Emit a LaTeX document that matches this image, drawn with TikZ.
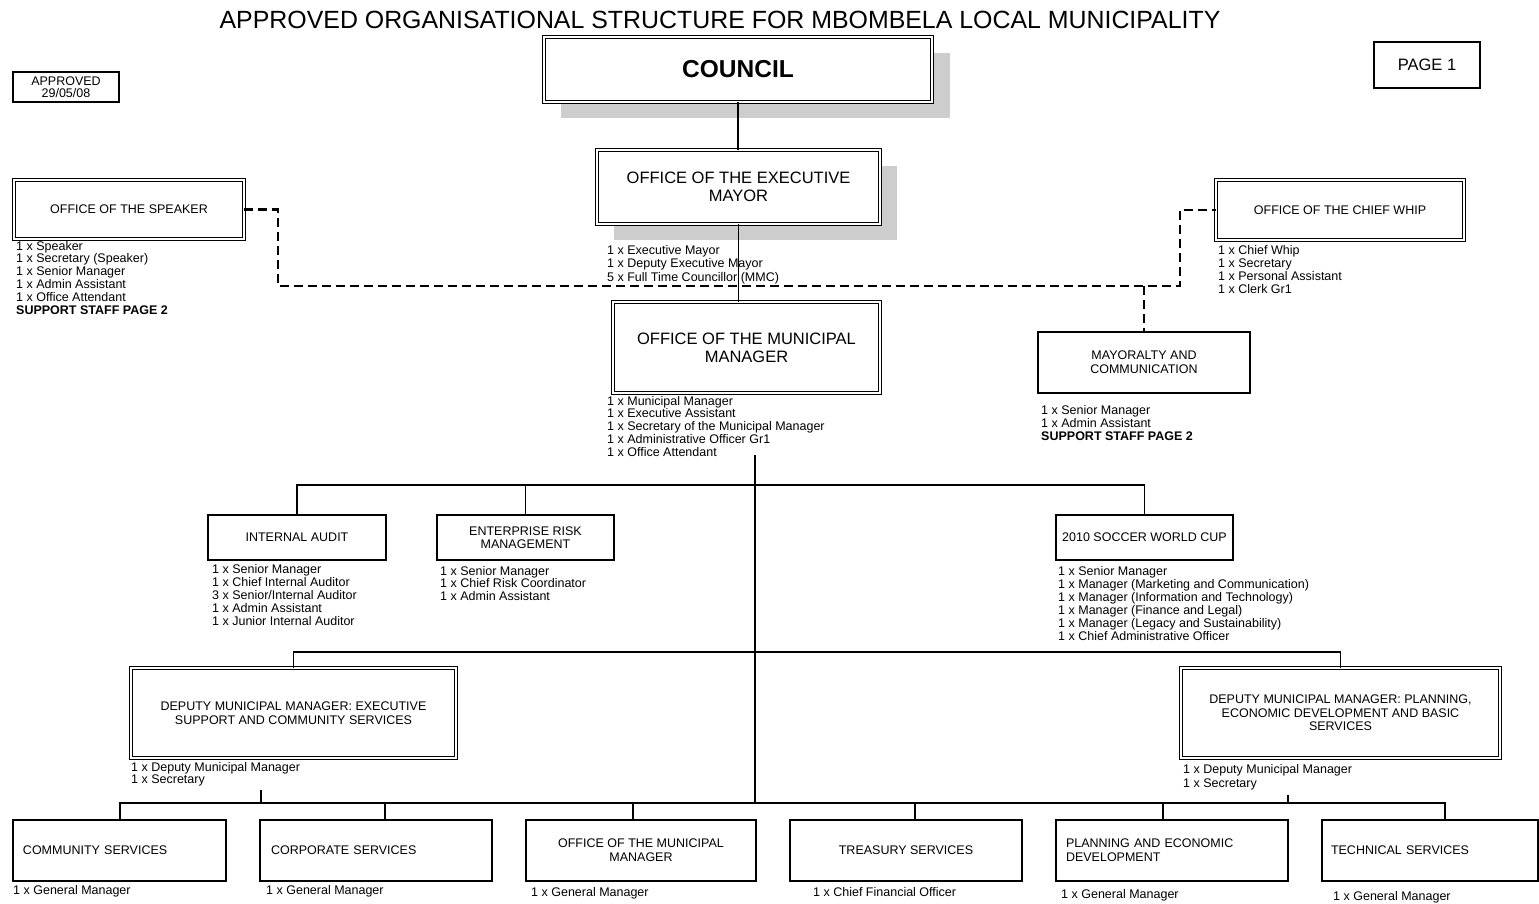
\documentclass[tikz,border=0pt]{standalone}
\usepackage{fontspec}
\setmainfont{Liberation Sans}
\definecolor{shadowgrey}{RGB}{205,205,205}
\newcommand{\stafflist}[1]{\begin{tabular}[t]{@{}l@{}}#1\end{tabular}}
\begin{document}
\begin{tikzpicture}[x=1pt,y=-1pt,
  box/.style={draw, line width=1.1pt, fill=white, inner sep=2pt, align=center, font=\fontsize{12.5}{14}\selectfont},
  dbl/.style={box, line width=0.9pt, double=white, double distance=2pt},
  lst/.style={anchor=base west, inner sep=0pt, font=\fontsize{12.5}{13}\selectfont},
  conn/.style={line width=1.1pt},
  dashline/.style={line width=2.4pt, dash pattern=on 9pt off 5pt},
  shadow/.style={fill=shadowgrey}
]
\useasboundingbox (0,0) rectangle (1539,903);

% title and side boxes
\node[font=\fontsize{24.9}{28}\selectfont, inner sep=0pt] (title) at (720,20) {APPROVED ORGANISATIONAL STRUCTURE FOR MBOMBELA LOCAL MUNICIPALITY};
\node[box, minimum width=106pt, minimum height=30pt, font=\fontsize{12.5}{12}\selectfont, inner sep=1pt] (approved) at (66,87) {APPROVED\\29/05/08};
\node[box, minimum width=106pt, minimum height=46pt, font=\fontsize{16.5}{18}\selectfont] (page) at (1427,65) {PAGE 1};

% council and executive mayor with shadows
\fill[shadow] (561,53) rectangle (950,118);
\node[dbl, minimum width=388pt, minimum height=65pt, font=\fontsize{24.5}{28}\selectfont\bfseries] (council) at (738,69.5) {COUNCIL};
\fill[shadow] (614,166) rectangle (897,240);
\node[dbl, minimum width=283pt, minimum height=74pt, font=\fontsize{16.5}{18}\selectfont] (mayor) at (738.5,187) {OFFICE OF THE EXECUTIVE\\MAYOR};
\node[lst, font=\fontsize{12.5}{13.5}\selectfont] (mayorlist) at (607,254) {\stafflist{1 x Executive Mayor\\1 x Deputy Executive Mayor\\5 x Full Time Councillor (MMC)}};

% speaker and chief whip
\node[dbl, minimum width=230pt, minimum height=59pt] (speaker) at (129,209.5) {OFFICE OF THE SPEAKER};
\node[lst, font=\fontsize{12.5}{12.9}\selectfont] (speakerlist) at (16,250) {\stafflist{1 x Speaker\\1 x Secretary (Speaker)\\1 x Senior Manager\\1 x Admin Assistant\\1 x Office Attendant\\\textbf{SUPPORT STAFF PAGE 2}}};
\node[dbl, minimum width=248pt, minimum height=60pt] (whip) at (1340,210) {OFFICE OF THE CHIEF WHIP};
\node[lst, font=\fontsize{12.5}{13.3}\selectfont] (whiplist) at (1218,254) {\stafflist{1 x Chief Whip\\1 x Secretary\\1 x Personal Assistant\\1 x Clerk Gr1}};

% municipal manager and mayoralty
\node[dbl, minimum width=267pt, minimum height=91pt, font=\fontsize{16.5}{18}\selectfont] (mm) at (746.5,347.5) {OFFICE OF THE MUNICIPAL\\MANAGER};
\node[lst, font=\fontsize{12.5}{12.6}\selectfont] (mmlist) at (607,405) {\stafflist{1 x Municipal Manager\\1 x Executive Assistant\\1 x Secretary of the Municipal Manager\\1 x Administrative Officer Gr1\\1 x Office Attendant}};
\node[box, minimum width=212pt, minimum height=61pt] (mayoralty) at (1144,362.5) {MAYORALTY AND\\COMMUNICATION};
\node[lst] (mayoraltylist) at (1041,414) {\stafflist{1 x Senior Manager\\1 x Admin Assistant\\\textbf{SUPPORT STAFF PAGE 2}}};

% second tier units
\node[box, minimum width=178pt, minimum height=45pt] (ia) at (297,537.5) {INTERNAL AUDIT};
\node[lst] (ialist) at (212,573) {\stafflist{1 x Senior Manager\\1 x Chief Internal Auditor\\3 x Senior/Internal Auditor\\1 x Admin Assistant\\1 x Junior Internal Auditor}};
\node[box, minimum width=177pt, minimum height=45pt, font=\fontsize{12.5}{13}\selectfont] (erm) at (525.5,537.5) {ENTERPRISE RISK\\MANAGEMENT};
\node[lst, font=\fontsize{12.5}{12.7}\selectfont] (ermlist) at (440,575) {\stafflist{1 x Senior Manager\\1 x Chief Risk Coordinator\\1 x Admin Assistant}};
\node[box, minimum width=177pt, minimum height=45pt] (soccer) at (1144.5,537.5) {2010 SOCCER WORLD CUP};
\node[lst] (soccerlist) at (1058,575) {\stafflist{1 x Senior Manager\\1 x Manager (Marketing and Communication)\\1 x Manager (Information and Technology)\\1 x Manager (Finance and Legal)\\1 x Manager (Legacy and Sustainability)\\1 x Chief Administrative Officer}};

% deputy municipal managers
\node[dbl, minimum width=325pt, minimum height=90pt, font=\fontsize{12.5}{13.5}\selectfont] (depl) at (293.5,713) {DEPUTY MUNICIPAL MANAGER: EXECUTIVE\\SUPPORT AND COMMUNITY SERVICES};
\node[lst, font=\fontsize{12.5}{12}\selectfont] (depllist) at (131,771) {\stafflist{1 x Deputy Municipal Manager\\1 x Secretary}};
\node[dbl, minimum width=319pt, minimum height=90pt, font=\fontsize{12.5}{13.5}\selectfont] (depr) at (1340.5,713) {DEPUTY MUNICIPAL MANAGER: PLANNING,\\ECONOMIC DEVELOPMENT AND BASIC\\SERVICES};
\node[lst, font=\fontsize{12.5}{14}\selectfont] (deprlist) at (1183,773) {\stafflist{1 x Deputy Municipal Manager\\1 x Secretary}};

% bottom row
\node[box, minimum width=213pt, minimum height=61pt, text width=193pt, align=left] (comm) at (119.5,850.5) {COMMUNITY SERVICES};
\node[box, minimum width=232pt, minimum height=61pt, text width=210pt, align=left] (corp) at (376,850.5) {CORPORATE SERVICES};
\node[box, minimum width=230pt, minimum height=61pt] (omm) at (641,850.5) {OFFICE OF THE MUNICIPAL\\MANAGER};
\node[box, minimum width=232pt, minimum height=61pt] (treas) at (906,850.5) {TREASURY SERVICES};
\node[box, minimum width=232pt, minimum height=61pt, text width=212pt, align=left] (plan) at (1172,850.5) {PLANNING AND ECONOMIC\\DEVELOPMENT};
\node[box, minimum width=216pt, minimum height=61pt, text width=198pt, align=left] (tech) at (1430,850.5) {TECHNICAL SERVICES};
\node[lst] (commlist) at (13,894) {1 x General Manager};
\node[lst] (corplist) at (266,894) {1 x General Manager};
\node[lst] (ommlist) at (531,896) {1 x General Manager};
\node[lst] (treaslist) at (813,896) {1 x Chief Financial Officer};
\node[lst] (planlist) at (1061,898) {1 x General Manager};
\node[lst] (techlist) at (1333,900) {1 x General Manager};

% helper coordinates
\coordinate (dl) at (278,286);
\coordinate (dr) at (1180,286);
\coordinate (bar1) at (0,485);
\coordinate (bar2) at (0,652);
\coordinate (bar3) at (0,803);
\coordinate (trunktop) at (755,455);
\coordinate (trunkbot) at (755,803);
\coordinate (deplout) at (261,790);
\coordinate (deprout) at (1288,795);
\coordinate (commin) at (120,820);
\coordinate (corpin) at (385,820);
\coordinate (ommin) at (633,820);
\coordinate (treasin) at (915,820);
\coordinate (planin) at (1163,820);
\coordinate (techin) at (1445,820);

% solid connectors
\draw[conn] (council.south) -- (council.south |- mayor.north);
\draw[conn] (mayor.south) -- (mayor.south |- mm.north);
\draw[conn] (trunktop) -- (trunkbot);
\draw[conn] (ia.north) -- (ia.north |- bar1) -| (soccer.north);
\draw[conn] (erm.north) -- (erm.north |- bar1);
\draw[conn] (depl.north) -- (depl.north |- bar2) -| (depr.north);
\draw[conn] (commin) -- (commin |- bar3) -| (techin);
\draw[conn] (corpin) -- (corpin |- bar3);
\draw[conn] (ommin) -- (ommin |- bar3);
\draw[conn] (treasin) -- (treasin |- bar3);
\draw[conn] (planin) -- (planin |- bar3);
\draw[conn] (deplout) -- (deplout |- bar3);
\draw[conn] (deprout) -- (deprout |- bar3);

% dashed connectors
\draw[dashline] (speaker.east) -| (dl) -- (dr) |- (whip.west);
\draw[dashline] (mayoralty.north |- dr) -- (mayoralty.north);
\end{tikzpicture}
\end{document}
